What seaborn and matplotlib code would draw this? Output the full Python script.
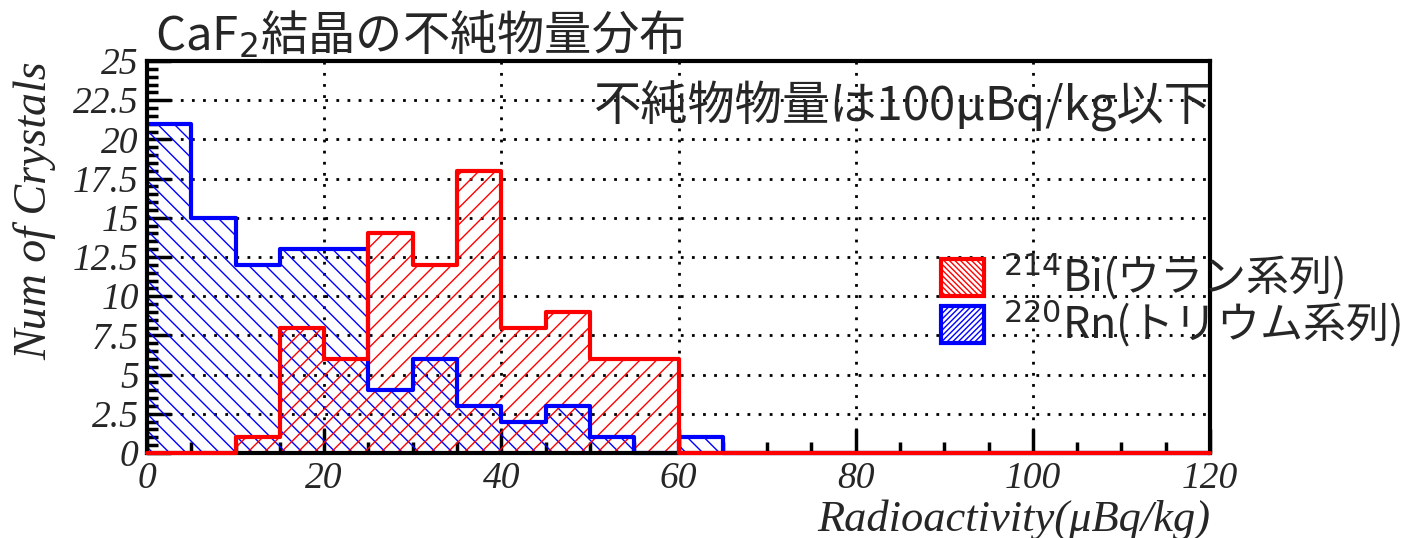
import matplotlib
matplotlib.use("Agg")
import numpy as np
import pandas as pd
import seaborn as sns
import matplotlib.pyplot as plt
from matplotlib.patches import Patch
from matplotlib.ticker import MultipleLocator, FixedLocator, FixedFormatter

# Histogram bins (µBq/kg) and crystal counts per bin
bin_edges = list(range(0, 125, 5))
bi214_counts = [0, 0, 1, 8, 6, 14, 12, 18, 8, 9, 6, 6,
                0, 0, 0, 0, 0, 0, 0, 0, 0, 0, 0, 0]
rn220_counts = [21, 15, 12, 13, 13, 4, 6, 3, 2, 3, 1, 0,
                1, 0, 0, 0, 0, 0, 0, 0, 0, 0, 0, 0]
y_ticks = [0, 2.5, 5, 7.5, 10, 12.5, 15, 17.5, 20, 22.5, 25]
x_ticks = [0, 20, 40, 60, 80, 100, 120]
series_labels = [r"$^{214}$Bi(ウラン系列)", r"$^{220}$Rn(トリウム系列)"]

centers = np.array(bin_edges[:-1]) + 2.5
df = pd.DataFrame({"activity": centers, "bi214": bi214_counts, "rn220": rn220_counts})

sns.set_style("ticks")
plt.rcParams["font.family"] = ["Noto Sans CJK JP", "DejaVu Sans"]
plt.rcParams["mathtext.fontset"] = "dejavusans"
plt.rcParams["hatch.linewidth"] = 1.0

fig = plt.figure(figsize=(14.17, 5.38), dpi=100)
ax = fig.add_axes([147 / 1417, 1 - 453 / 538, (1210 - 147) / 1417, (453 - 61) / 538])

serif_it = {"family": "Liberation Serif", "style": "italic"}

ax.grid(True, which="major", color="black", linestyle=(0, (1, 3)), linewidth=2)
ax.set_axisbelow(True)

# (column, colour, hatch, zorder of the outline)
series = [("rn220", "#0000ff", "\\\\", 4), ("bi214", "#ff0000", "//", 6)]
for col, colr, hatch, z in series:
    # hatched area without border
    sns.histplot(data=df, x="activity", weights=col, bins=bin_edges, element="step",
                 fill=True, color=colr, facecolor="none", edgecolor=colr, hatch=hatch,
                 linewidth=0, ax=ax, zorder=3)
    # step outline along the bin tops
    sns.histplot(data=df, x="activity", weights=col, bins=bin_edges, element="step",
                 fill=False, color=colr, linewidth=3, ax=ax, zorder=z, clip_on=False)

ax.set_xlim(0, 120)
ax.set_ylim(0, 25)

ax.xaxis.set_major_locator(FixedLocator(x_ticks))
ax.xaxis.set_major_formatter(FixedFormatter([f"{v:g}" for v in x_ticks]))
ax.xaxis.set_minor_locator(MultipleLocator(5))
ax.yaxis.set_major_locator(FixedLocator(y_ticks))
ax.yaxis.set_major_formatter(FixedFormatter([f"{v:g}" for v in y_ticks]))
ax.yaxis.set_minor_locator(MultipleLocator(0.5))

ax.tick_params(which="both", direction="in", top=False, right=False, color="black", width=2.5)
ax.tick_params(which="major", length=17, pad=6)
ax.tick_params(which="minor", length=8)
for lab in ax.get_xticklabels() + ax.get_yticklabels():
    lab.set_fontfamily("Liberation Serif")
    lab.set_fontstyle("italic")
    lab.set_fontsize(27)

for sp in ax.spines.values():
    sp.set_linewidth(3)
    sp.set_color("black")
    sp.set_zorder(5)

ax.set_xlabel("Radioactivity(μBq/kg)", fontsize=32, loc="right", labelpad=2, **serif_it)
ax.set_ylabel("Num of Crystals", fontsize=33, loc="top", labelpad=12, **serif_it)

fig.text(155 / 1417, 1 - 50 / 538, "CaF$_2$結晶の不純物量分布", fontsize=34,
         va="baseline", ha="left", family=["Noto Sans CJK JP", "DejaVu Sans"])

ax.text(1.002, 0.885, "不純物物量は100μBq/kg以下", transform=ax.transAxes, fontsize=34,
        ha="right", va="center", family=["Noto Sans CJK JP", "DejaVu Sans"], zorder=7)

handles = [
    Patch(facecolor="white", edgecolor="#ff0000", hatch="\\\\\\\\\\\\", linewidth=3),
    Patch(facecolor="white", edgecolor="#0000ff", hatch="//////", linewidth=3),
]
leg = fig.legend(handles, series_labels, loc="upper left",
                 bbox_to_anchor=(941 / 1417, 1 - 252 / 538), frameon=False,
                 fontsize=31, handlelength=1.0, handleheight=0.95,
                 handletextpad=0.45, labelspacing=-0.08, borderpad=0, borderaxespad=0)
for t in leg.get_texts():
    t.set_fontfamily(["Noto Sans CJK JP", "DejaVu Sans"])

fig.savefig("out.png", dpi=100)
